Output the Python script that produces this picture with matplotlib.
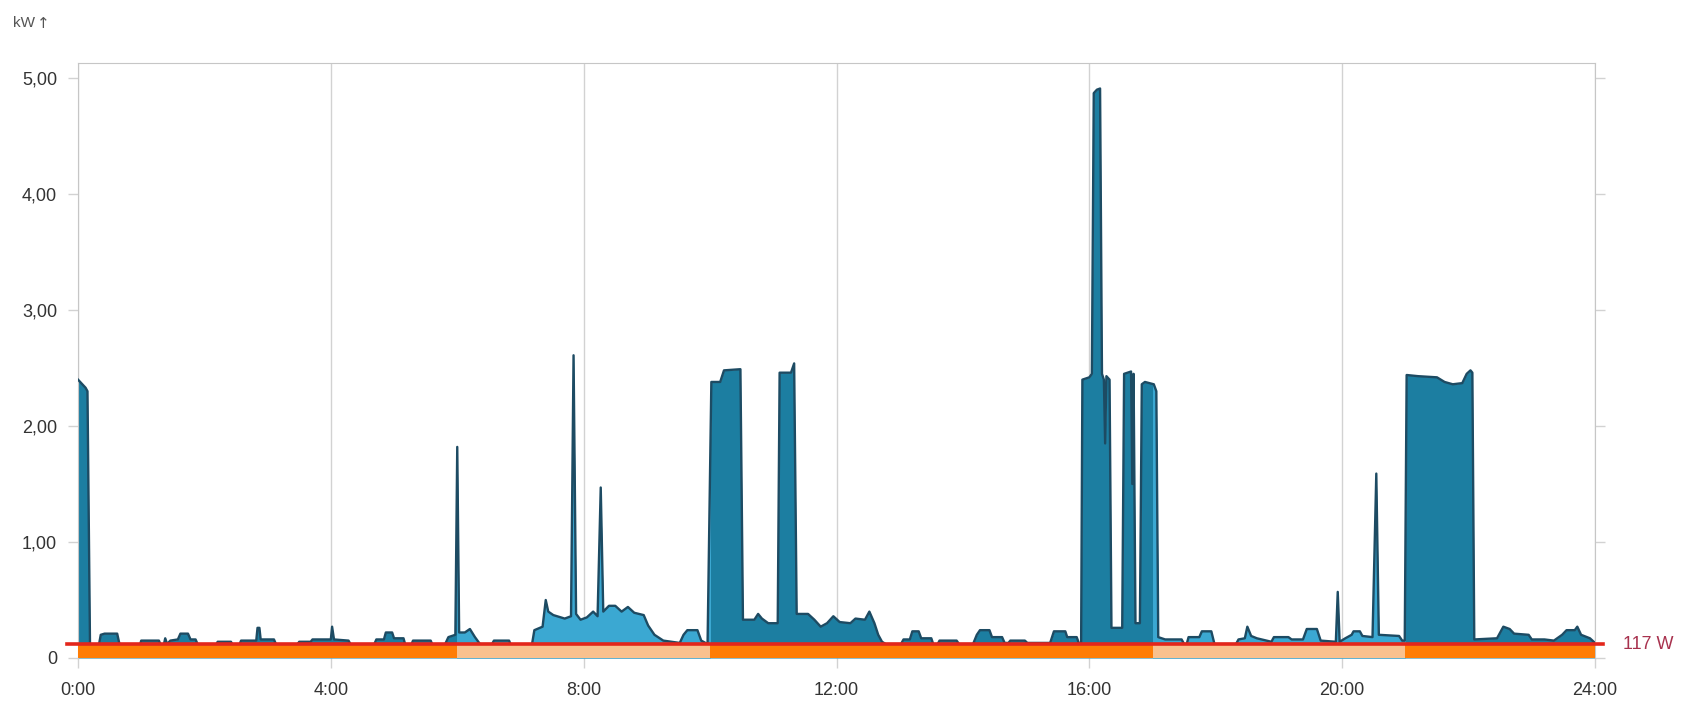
import matplotlib
matplotlib.use("Agg")
import matplotlib.pyplot as plt
import matplotlib.transforms as mtransforms
from matplotlib.patches import Rectangle

# ── data: power readings over one day (hour of day, kW) ───────────────────────
hours = [
    0.00, 0.12, 0.15, 0.19, 0.33, 0.36, 0.42, 0.62, 0.66, 0.98,
    1.00, 1.28, 1.31, 1.36, 1.38, 1.41, 1.46, 1.58, 1.62, 1.74,
    1.78, 1.86, 1.90, 2.18, 2.21, 2.42, 2.45, 2.55, 2.58, 2.82,
    2.84, 2.87, 2.89, 3.10, 3.14, 3.46, 3.50, 3.68, 3.71, 4.00,
    4.02, 4.05, 4.28, 4.32, 4.68, 4.72, 4.84, 4.87, 4.97, 5.00,
    5.15, 5.18, 5.27, 5.30, 5.58, 5.61, 5.80, 5.86, 5.97, 6.00,
    6.03, 6.12, 6.20, 6.28, 6.36, 6.55, 6.58, 6.82, 6.85, 7.18,
    7.22, 7.35, 7.40, 7.44, 7.52, 7.70, 7.80, 7.84, 7.88, 7.95,
    8.05, 8.15, 8.22, 8.27, 8.31, 8.40, 8.50, 8.60, 8.70, 8.80,
    8.95, 9.02, 9.12, 9.26, 9.52, 9.58, 9.64, 9.80, 9.86, 9.96,
    10.02, 10.16, 10.22, 10.48, 10.52, 10.70, 10.76, 10.82, 10.92, 11.07,
    11.10, 11.28, 11.33, 11.37, 11.55, 11.65, 11.75, 11.85, 11.95, 12.05,
    12.22, 12.30, 12.45, 12.52, 12.60, 12.66, 12.72, 12.78, 13.02, 13.06,
    13.16, 13.20, 13.30, 13.34, 13.50, 13.53, 13.60, 13.63, 13.90, 13.94,
    14.16, 14.22, 14.27, 14.42, 14.46, 14.62, 14.66, 14.72, 14.75, 14.98,
    15.02, 15.38, 15.44, 15.62, 15.65, 15.80, 15.84, 15.87, 15.89, 16.00,
    16.04, 16.07, 16.12, 16.17, 16.20, 16.23, 16.25, 16.27, 16.32, 16.35,
    16.52, 16.55, 16.66, 16.68, 16.70, 16.73, 16.80, 16.83, 16.88, 17.02,
    17.06, 17.09, 17.20, 17.46, 17.50, 17.54, 17.57, 17.74, 17.78, 17.93,
    17.98, 18.32, 18.36, 18.46, 18.50, 18.56, 18.65, 18.80, 18.88, 18.92,
    19.15, 19.20, 19.38, 19.44, 19.60, 19.66, 19.90, 19.93, 19.96, 20.05,
    20.15, 20.18, 20.28, 20.32, 20.48, 20.54, 20.58, 20.90, 20.95, 20.99,
    21.02, 21.20, 21.50, 21.62, 21.75, 21.90, 21.97, 22.03, 22.06, 22.09,
    22.45, 22.50, 22.55, 22.65, 22.72, 22.95, 23.00, 23.20, 23.35, 23.48,
    23.55, 23.68, 23.72, 23.78, 23.92, 24.00,
]
kw = [
    2.40, 2.33, 2.30, 0.11, 0.11, 0.20, 0.21, 0.21, 0.11, 0.11,
    0.15, 0.15, 0.11, 0.12, 0.17, 0.12, 0.15, 0.16, 0.21, 0.21,
    0.16, 0.16, 0.11, 0.11, 0.14, 0.14, 0.11, 0.11, 0.15, 0.15,
    0.26, 0.26, 0.16, 0.16, 0.11, 0.11, 0.14, 0.14, 0.16, 0.16,
    0.27, 0.16, 0.15, 0.11, 0.11, 0.16, 0.16, 0.22, 0.22, 0.17,
    0.17, 0.11, 0.11, 0.15, 0.15, 0.11, 0.11, 0.18, 0.20, 1.82,
    0.22, 0.22, 0.25, 0.18, 0.12, 0.12, 0.15, 0.15, 0.11, 0.11,
    0.24, 0.27, 0.50, 0.40, 0.37, 0.34, 0.36, 2.61, 0.38, 0.33,
    0.35, 0.40, 0.36, 1.47, 0.40, 0.45, 0.45, 0.40, 0.44, 0.39,
    0.37, 0.28, 0.20, 0.15, 0.13, 0.20, 0.24, 0.24, 0.15, 0.12,
    2.38, 2.38, 2.48, 2.49, 0.33, 0.33, 0.38, 0.34, 0.30, 0.30,
    2.46, 2.46, 2.54, 0.38, 0.38, 0.33, 0.27, 0.30, 0.36, 0.31,
    0.30, 0.34, 0.33, 0.40, 0.30, 0.20, 0.14, 0.12, 0.12, 0.16,
    0.16, 0.23, 0.23, 0.17, 0.17, 0.12, 0.12, 0.15, 0.15, 0.12,
    0.12, 0.20, 0.24, 0.24, 0.18, 0.18, 0.13, 0.13, 0.15, 0.15,
    0.13, 0.13, 0.23, 0.23, 0.18, 0.18, 0.12, 0.12, 2.40, 2.42,
    2.45, 4.87, 4.90, 4.91, 2.45, 2.40, 1.85, 2.43, 2.40, 0.26,
    0.26, 2.45, 2.47, 1.50, 2.45, 0.30, 0.30, 2.36, 2.38, 2.36,
    2.30, 0.18, 0.16, 0.16, 0.12, 0.12, 0.18, 0.18, 0.23, 0.23,
    0.12, 0.12, 0.16, 0.17, 0.27, 0.19, 0.17, 0.15, 0.14, 0.18,
    0.18, 0.16, 0.16, 0.25, 0.25, 0.15, 0.14, 0.57, 0.14, 0.17,
    0.20, 0.23, 0.23, 0.19, 0.18, 1.59, 0.20, 0.19, 0.15, 0.15,
    2.44, 2.43, 2.42, 2.38, 2.36, 2.37, 2.45, 2.48, 2.46, 0.16,
    0.17, 0.22, 0.27, 0.25, 0.21, 0.20, 0.16, 0.16, 0.15, 0.20,
    0.24, 0.24, 0.27, 0.20, 0.17, 0.13,
]

# tariff periods (high / low)
tariff_start = [0, 6, 10, 17, 21]
tariff_end   = [6, 10, 17, 21, 24]
tariff_kind  = ["high", "low", "high", "low", "high"]

baseload_kw    = 0.117
baseload_label = "117 W"

y_ticks       = [0, 1, 2, 3, 4, 5]
y_tick_labels = ["0", "1,00", "2,00", "3,00", "4,00", "5,00"]
x_ticks       = [0, 4, 8, 12, 16, 20, 24]
x_tick_labels = ["0:00", "4:00", "8:00", "12:00", "16:00", "20:00", "24:00"]

# ── styles ────────────────────────────────────────────────────────────────────
FILL   = {"high": "#1c7ea1", "low": "#3ba8d2"}
BAND   = {"high": "#ff7d05", "low": "#f9c18e"}
LINE   = "#1d4b63"
RED    = "#e3261b"
GRID   = "#d2d2d2"
TEXT   = "#333333"
FONT   = ["Liberation Sans", "DejaVu Sans"]

plt.rcParams["font.family"] = FONT

W, H = 1683, 702
fig = plt.figure(figsize=(W / 100, H / 100), dpi=100)
ax = fig.add_axes([78 / W, 44 / H, (1595 - 78) / W, (658 - 63) / H])
ax.set_xlim(0, 24)
ax.set_ylim(0, 5.13)

# area: dark everywhere, light (clipped) in low-tariff periods
ax.fill_between(hours, 0, kw, color=FILL["high"], lw=0, zorder=2)
for s, e, k in zip(tariff_start, tariff_end, tariff_kind):
    if k != "low":
        continue
    poly = ax.fill_between(hours, 0, kw, color=FILL["low"], lw=0, zorder=2.5)
    poly.set_clip_path(Rectangle((s, 0), e - s, 10, transform=ax.transData))
ax.plot(hours, kw, color=LINE, lw=1.7, zorder=3, solid_joinstyle="round")

# tariff band below the base load line
for s, e, k in zip(tariff_start, tariff_end, tariff_kind):
    ax.add_patch(Rectangle((s, 0), e - s, baseload_kw, color=BAND[k], lw=0, zorder=4))

ax.axhline(baseload_kw, xmin=-0.007, xmax=1.005, color=RED, lw=2.6,
           clip_on=False, zorder=5)
trans = mtransforms.blended_transform_factory(ax.transAxes, ax.transData)
ax.text(1.0185, baseload_kw, baseload_label, transform=trans, ha="left",
        va="center", fontsize=13, color="#a8324e")

# axes cosmetics
ax.set_xticks(x_ticks)
ax.set_xticklabels(x_tick_labels)
ax.set_yticks(y_ticks)
ax.set_yticklabels(y_tick_labels)
ax.grid(axis="x", color=GRID, lw=1, zorder=1)
ax.tick_params(axis="x", length=7, width=1, color=GRID, pad=10,
               labelsize=13, labelcolor=TEXT)
ax.tick_params(axis="y", length=7, width=1, color=GRID, pad=8,
               labelsize=13, labelcolor=TEXT, right=True)
for side in ("left", "top", "right"):
    ax.spines[side].set_color("#c6c6c6")
ax.spines["bottom"].set_visible(False)

fig.text(13 / W, 1 - 23 / H, "kW", fontsize=11, color="#555555",
         ha="left", va="center")
fig.text(37 / W, 1 - 23 / H, "↑", fontsize=11, color="#555555",
         ha="left", va="center", family=["DejaVu Sans"])

fig.savefig("out.png", dpi=100)
